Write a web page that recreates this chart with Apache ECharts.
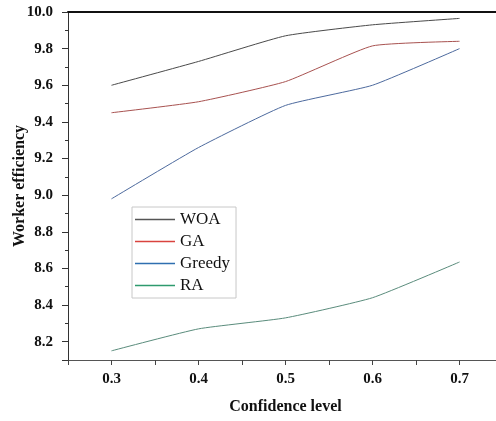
<!DOCTYPE html>
<html>
<head>
<meta charset="utf-8">
<script src="https://cdn.jsdelivr.net/npm/echarts@6/dist/echarts.min.js"></script>
<style>
  html, body { margin: 0; padding: 0; background: #fff; }
  #chart { width: 496px; height: 421px; }
</style>
</head>
<body>
<div id="chart"></div>
<script>
// worker efficiency vs confidence level
const confidence = [0.3, 0.4, 0.5, 0.6, 0.7];
const woa = [9.60, 9.73, 9.87, 9.93, 9.965];
const ga = [9.45, 9.51, 9.62, 9.815, 9.84];
const greedy = [8.98, 9.26, 9.49, 9.60, 9.80];
const ra = [8.15, 8.27, 8.33, 8.44, 8.635];

const xMajor = [0.3, 0.4, 0.5, 0.6, 0.7];

const serif = 'Liberation Serif';
const labelFont = { fontFamily: serif, fontSize: 15, fontWeight: 'bold', color: '#111' };
const nameFont = { fontFamily: serif, fontSize: 16, fontWeight: 'bold', color: '#111' };

function pairs(vals) {
    return confidence.map((c, i) => [c, vals[i]]);
}

function makeSeries(name, vals, color) {
    return {
        name: name,
        type: 'line',
        symbol: 'none',
        smooth: 0.15,
        lineStyle: { color: color, width: 1 },
        itemStyle: { color: color },
        data: pairs(vals)
    };
}

function legendItem(name, color) {
    return { name: name, icon: 'rect', itemStyle: { color: color } };
}

const chart = echarts.init(document.getElementById('chart'));
chart.setOption({
    animation: false,
    backgroundColor: '#fff',
    grid: {
        left: 68,
        top: 12,
        width: 435,
        height: 348,
        outerBoundsMode: 'none',
        containLabel: false
    },
    legend: {
        orient: 'vertical',
        left: 132,
        top: 207,
        itemWidth: 40,
        itemHeight: 1.5,
        itemGap: 5,
        padding: [4, 6, 4, 3],
        borderColor: '#c8c8c8',
        borderWidth: 1,
        textStyle: { fontFamily: serif, fontSize: 17, color: '#111', lineHeight: 17 },
        data: [
            legendItem('WOA', '#555'),
            legendItem('GA', '#d9433f'),
            legendItem('Greedy', '#2f6fb0'),
            legendItem('RA', '#2e9a6e')
        ]
    },
    xAxis: [
        {
            type: 'value',
            min: 0.25,
            max: 0.75,
            interval: 0.05,
            name: 'Confidence level',
            nameLocation: 'middle',
            nameGap: 39,
            nameMoveOverlap: false,
            nameTextStyle: nameFont,
            axisLine: { lineStyle: { color: '#555', width: 1 } },
            axisTick: { show: true, length: 5, lineStyle: { color: '#444' } },
            splitLine: { show: false },
            axisLabel: Object.assign({ margin: 12, customValues: xMajor,
                formatter: v => v.toFixed(1) }, labelFont)
        },
        {
            // top frame line
            type: 'value',
            position: 'top',
            min: 0.25,
            max: 0.75,
            axisLine: { show: true, lineStyle: { color: '#111', width: 2 } },
            axisTick: { show: false },
            axisLabel: { show: false },
            splitLine: { show: false }
        }
    ],
    yAxis: [
        {
            // data axis, minor ticks every 0.1
            type: 'value',
            min: 8.1,
            max: 10.0,
            interval: 0.1,
            name: 'Worker efficiency',
            nameLocation: 'middle',
            nameGap: 40,
            nameMoveOverlap: false,
            nameTextStyle: nameFont,
            axisLine: { show: true, lineStyle: { color: '#333', width: 1 } },
            axisTick: { show: true, length: 3, lineStyle: { color: '#333' } },
            splitLine: { show: false },
            axisLabel: { show: false }
        },
        {
            // major ticks + labels every 0.2 (negated, inverted so ticks start at 10.0)
            type: 'value',
            position: 'left',
            inverse: true,
            min: -10.0,
            max: -8.1,
            interval: 0.2,
            axisLine: { show: false },
            axisTick: { show: true, length: 6, lineStyle: { color: '#333' } },
            splitLine: { show: false },
            axisLabel: Object.assign({
                margin: 15,
                formatter: function (v) {
                    const k = Math.round(-v * 10);
                    return k % 2 === 0 ? (k / 10).toFixed(1) : '';
                }
            }, labelFont)
        }
    ],
    series: [
        makeSeries('WOA', woa, '#4a4a4a'),
        makeSeries('GA', ga, '#a85250'),
        makeSeries('Greedy', greedy, '#4d6a9e'),
        makeSeries('RA', ra, '#5a8c7c')
    ]
});
</script>
</body>
</html>
